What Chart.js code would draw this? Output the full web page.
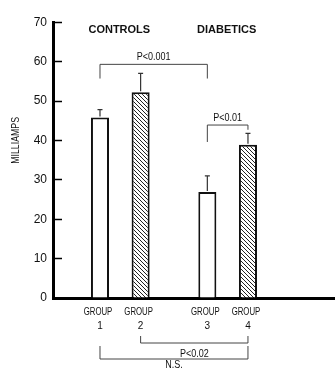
<!DOCTYPE html>
<html>
<head>
<meta charset="utf-8">
<script src="https://cdn.jsdelivr.net/npm/chart.js@4.4.0/dist/chart.umd.min.js"></script>
<style>
  html, body { margin: 0; padding: 0; background: #fff; }
  #wrap { width: 335px; height: 370px; position: relative; }
</style>
</head>
<body>
<div id="wrap"><canvas id="chart"></canvas></div>
<script>
// groups and bars (group 1 & 3 open, group 2 & 4 hatched)
var groupNames = ['CONTROLS', 'DIABETICS'];
var barNames = [['GROUP', '1'], ['GROUP', '2'], ['GROUP', '3'], ['GROUP', '4']];
var openValues = [45.8, 26.9];     // group 1, group 3
var openErrors = [2.0, 4.1];
var hatchedValues = [52.2, 38.9];  // group 2, group 4
var hatchedErrors = [4.8, 2.9];

// y axis
var yMin = 0, yMax = 70, yStep = 10;
var yTitle = 'MILLIAMPS';

// significance brackets between bars (1..4)
var comparisons = [
  { from: 1, to: 3, text: 'P<0.001' },
  { from: 3, to: 4, text: 'P<0.01' },
  { from: 2, to: 4, text: 'P<0.02' },
  { from: 1, to: 4, text: 'N.S.' }
];

var sans = "'Liberation Sans', Arial, sans-serif";

// where the brackets sit: first two in y values, last two in px under the axis
var bracketLayout = [
  { level: 59.3, legs: [55.7, 55.7], label: 61.2 },
  { level: 43.9, legs: [39.6, 42.7], label: 45.6 },
  { drop: 45, legs: [38, 38], label: 56 },
  { drop: 61, legs: [48, 48], label: 67 }
];

var ctx = document.getElementById('chart').getContext('2d');

function hatchPattern() {
  var c = document.createElement('canvas');
  c.width = 4; c.height = 4;
  var g = c.getContext('2d');
  g.fillStyle = '#fff';
  g.fillRect(0, 0, 4, 4);
  g.strokeStyle = '#222';
  g.lineWidth = 1;
  g.beginPath();
  g.moveTo(0, 0); g.lineTo(4, 4);
  g.moveTo(-1, 3); g.lineTo(1, 5);
  g.moveTo(3, -1); g.lineTo(5, 1);
  g.stroke();
  return ctx.createPattern(c, 'repeat');
}

// condensed text: squeeze horizontally around the anchor point
function narrowText(c, text, x, y, squeeze) {
  c.save();
  c.translate(x, y);
  c.scale(squeeze, 1);
  c.fillText(text, 0, 0);
  c.restore();
}

var annotate = {
  id: 'annotate',
  afterDatasetsDraw: function (chart) {
    var c = chart.ctx, xs = chart.scales.x, ys = chart.scales.y, area = chart.chartArea;
    function bar(n) { return chart.getDatasetMeta((n - 1) % 2).data[Math.floor((n - 1) / 2)]; }
    c.save();

    // error bars, upper half only
    [[openValues, openErrors], [hatchedValues, hatchedErrors]].forEach(function (set, d) {
      chart.getDatasetMeta(d).data.forEach(function (el, i) {
        var top = ys.getPixelForValue(set[0][i] + set[1][i]);
        c.strokeStyle = '#333';
        c.lineWidth = 1.2;
        c.beginPath();
        c.moveTo(el.x, el.y - 1); c.lineTo(el.x, top);
        c.moveTo(el.x - 2.5, top); c.lineTo(el.x + 2.5, top);
        c.stroke();
      });
    });

    // group titles
    c.fillStyle = '#111';
    c.textAlign = 'center';
    c.textBaseline = 'middle';
    c.font = 'bold 11px ' + sans;
    groupNames.forEach(function (g, i) {
      c.fillText(g, xs.getPixelForValue(i + 1) - 1, area.top + 7.5);
    });

    // bar labels under the axis
    c.font = '10px ' + sans;
    barNames.forEach(function (lines, i) {
      var b = bar(i + 1);
      narrowText(c, lines[0], b.x - 2, area.bottom + 14.5, 0.78);
      c.fillText(lines[1], b.x, area.bottom + 28);
    });

    // brackets
    c.strokeStyle = '#444';
    c.lineWidth = 1;
    comparisons.forEach(function (cmp, i) {
      var L = bracketLayout[i];
      var xa = bar(cmp.from).x, xb = bar(cmp.to).x;
      var yl, ya, yb, yt;
      if (L.level !== undefined) {
        yl = ys.getPixelForValue(L.level);
        ya = ys.getPixelForValue(L.legs[0]);
        yb = ys.getPixelForValue(L.legs[1]);
        yt = ys.getPixelForValue(L.label);
      } else {
        yl = area.bottom + L.drop;
        ya = area.bottom + L.legs[0];
        yb = area.bottom + L.legs[1];
        yt = area.bottom + L.label;
      }
      c.beginPath();
      c.moveTo(xa, ya); c.lineTo(xa, yl); c.lineTo(xb, yl); c.lineTo(xb, yb);
      c.stroke();
      c.font = '10px ' + sans;
      narrowText(c, cmp.text, (xa + xb) / 2, yt, 0.9);
    });

    // y axis title
    c.save();
    c.translate(16, ys.getPixelForValue(40));
    c.rotate(-Math.PI / 2);
    c.font = '11px ' + sans;
    narrowText(c, yTitle, 0, 0, 0.8);
    c.restore();

    c.restore();
  }
};

var chart = new Chart(ctx, {
  type: 'bar',
  data: {
    datasets: [{
      label: 'open',
      data: openValues.map(function (v, i) { return { x: i + 1, y: v }; }),
      backgroundColor: '#fff',
      borderColor: '#111',
      borderWidth: 2,
      categoryPercentage: 0.757,
      barPercentage: 0.444
    }, {
      label: 'hatched',
      data: hatchedValues.map(function (v, i) { return { x: i + 1, y: v }; }),
      backgroundColor: hatchPattern(),
      borderColor: '#111',
      borderWidth: 2,
      categoryPercentage: 0.757,
      barPercentage: 0.444
    }]
  },
  options: {
    responsive: true,
    maintainAspectRatio: false,
    animation: false,
    layout: { padding: { top: 15, right: 0, bottom: 0, left: 0 } },
    plugins: {
      legend: { display: false },
      tooltip: { enabled: false }
    },
    scales: {
      x: {
        type: 'linear',
        offset: false,
        min: 0.373,
        max: 3.0,
        afterBuildTicks: function (s) {
          s.ticks = groupNames.map(function (g, i) { return { value: i + 1 }; });
        },
        afterFit: function (s) { s.height = 72; },
        ticks: { display: false },
        grid: { display: false },
        border: { display: true, width: 3, color: '#000' }
      },
      y: {
        min: yMin,
        max: yMax,
        ticks: {
          stepSize: yStep,
          padding: 15,
          color: '#111',
          font: { size: 12, family: sans }
        },
        grid: {
          drawOnChartArea: false,
          drawTicks: true,
          tickLength: -9,
          tickWidth: 1.5,
          tickColor: '#000'
        },
        border: { display: true, width: 3, color: '#000' },
        afterFit: function (s) { s.width = 53; }
      }
    }
  },
  plugins: [annotate]
});
</script>
</body>
</html>
